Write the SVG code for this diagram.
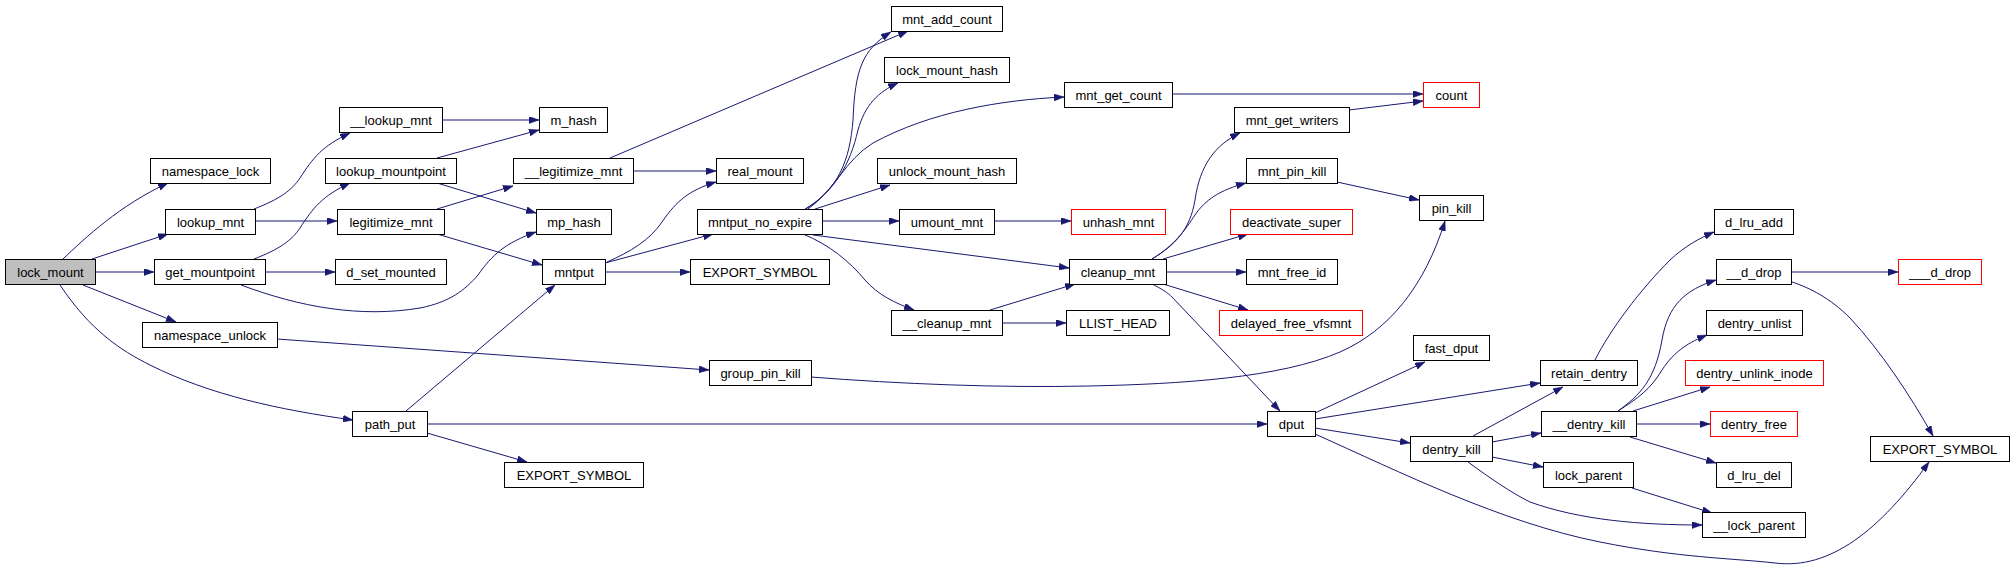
<svg xmlns="http://www.w3.org/2000/svg" width="2015" height="567" viewBox="0 0 2015 567">
<style>
.n rect{fill:#fff;stroke:#000;stroke-width:1}
.n.red rect{stroke:#ff0000}
.n.root rect{fill:#bfbfbf}
.n text{font-family:"Liberation Sans",Arial,sans-serif;font-size:13px;fill:#000;text-anchor:middle}
#edges path{fill:none;stroke:#191970;stroke-width:1;marker-end:url(#ah)}
</style>
<defs>
<marker id="ah" viewBox="0 0 10 7" refX="10" refY="3.5" markerWidth="10" markerHeight="7" markerUnits="userSpaceOnUse" orient="auto">
<path d="M0,0 L10,3.5 L0,7 z" fill="#191970" stroke="#191970" stroke-width="0.5"/>
</marker>
</defs>
<rect width="2015" height="567" fill="#fff"/>
<g id="edges">
<path d="M63,259 C85,238 120,205 168,183"/>
<path d="M92,259 L168,234"/>
<path d="M95,272 L154,272"/>
<path d="M83,285 L176,322"/>
<path d="M60,285 C90,330 120,350 150,365 C210,395 280,410 353,420"/>
<path d="M254,209 C280,199 292,190 300,178 C313,158 322,146 350,133"/>
<path d="M255,221 L337,221"/>
<path d="M254,259 C280,249 292,240 300,228 C313,208 322,196 350,183"/>
<path d="M265,272 L335,272"/>
<path d="M241,285 C300,307 360,318 420,308 C450,302 465,290 478,275 C492,255 505,243 536,232"/>
<path d="M277,339 L709,370"/>
<path d="M406,411 L555,285"/>
<path d="M427,424 L1267,424"/>
<path d="M427,433 L527,462"/>
<path d="M442,120 L539,120"/>
<path d="M437,158 L539,130"/>
<path d="M437,183 L536,213"/>
<path d="M437,209 L513,186"/>
<path d="M437,234 L542,265"/>
<path d="M633,171 L716,171"/>
<path d="M610,158 L908,31"/>
<path d="M607,262 C630,252 650,240 662,222 C677,200 690,190 716,182"/>
<path d="M605,263 L713,234"/>
<path d="M605,272 L690,272"/>
<path d="M805,209 C838,190 850,160 853,120 C855,70 862,50 891,32"/>
<path d="M806,209 C835,190 850,165 858,130 C865,105 878,92 898,83"/>
<path d="M808,209 C835,190 845,160 873,143 C930,112 1000,100 1064,97"/>
<path d="M815,209 L890,185"/>
<path d="M822,221 L899,221"/>
<path d="M813,235 L1069,268"/>
<path d="M803,234 C830,245 850,262 865,280 C878,295 895,303 914,310"/>
<path d="M994,221 L1071,221"/>
<path d="M990,310 L1075,284"/>
<path d="M1002,323 L1066,323"/>
<path d="M1172,94 L1423,94"/>
<path d="M1152,259 C1175,245 1190,230 1195,200 C1200,165 1215,145 1240,133"/>
<path d="M1152,259 C1175,245 1185,230 1195,215 C1205,200 1220,190 1246,183"/>
<path d="M1163,259 L1248,234"/>
<path d="M1166,272 L1246,272"/>
<path d="M1163,284 L1248,310"/>
<path d="M1152,284 C1162,289 1168,293 1172,297 L1280,411"/>
<path d="M1349,110 L1423,101"/>
<path d="M1337,182 L1419,200"/>
<path d="M811,377 C900,384 1000,388 1090,386 C1180,384 1280,378 1340,352 C1390,330 1425,285 1445,221"/>
<path d="M1315,413 L1425,362"/>
<path d="M1315,419 L1540,383"/>
<path d="M1315,428 L1410,443"/>
<path d="M1315,434 C1400,472 1500,522 1600,542 C1680,558 1730,558 1775,563 C1830,570 1880,530 1929,462"/>
<path d="M1473,436 L1563,387"/>
<path d="M1492,442 L1541,433"/>
<path d="M1492,457 L1543,467"/>
<path d="M1468,462 C1490,478 1510,492 1530,502 C1580,520 1640,525 1702,525"/>
<path d="M1632,488 L1712,513"/>
<path d="M1595,360 C1610,330 1640,290 1670,260 C1685,246 1700,238 1714,232"/>
<path d="M1618,411 C1640,395 1655,380 1662,340 C1668,305 1685,290 1716,280"/>
<path d="M1618,411 C1638,398 1650,390 1662,370 C1675,350 1690,342 1707,335"/>
<path d="M1633,411 L1710,387"/>
<path d="M1636,424 L1710,424"/>
<path d="M1630,437 L1716,463"/>
<path d="M1792,272 L1898,272"/>
<path d="M1792,282 C1810,288 1830,298 1850,318 C1880,350 1910,395 1933,436"/>
</g>
<g id="lock_mount" class="n root"><rect x="5.5" y="259.5" width="90" height="25"/><text x="50.5" y="276.5">lock_mount</text></g>
<g id="namespace_lock" class="n"><rect x="150.5" y="158.5" width="120" height="25"/><text x="210.5" y="175.5">namespace_lock</text></g>
<g id="lookup_mnt" class="n"><rect x="165.5" y="209.5" width="90" height="25"/><text x="210.5" y="226.5">lookup_mnt</text></g>
<g id="get_mountpoint" class="n"><rect x="154.5" y="259.5" width="111" height="25"/><text x="210" y="276.5">get_mountpoint</text></g>
<g id="namespace_unlock" class="n"><rect x="142.5" y="322.5" width="135" height="25"/><text x="210" y="339.5">namespace_unlock</text></g>
<g id="path_put" class="n"><rect x="352.5" y="411.5" width="75" height="25"/><text x="390" y="428.5">path_put</text></g>
<g id="__lookup_mnt" class="n"><rect x="339.5" y="107.5" width="103" height="25"/><text x="391" y="124.5">__lookup_mnt</text></g>
<g id="lookup_mountpoint" class="n"><rect x="325.5" y="158.5" width="131" height="25"/><text x="391" y="175.5">lookup_mountpoint</text></g>
<g id="legitimize_mnt" class="n"><rect x="337.5" y="209.5" width="107" height="25"/><text x="391" y="226.5">legitimize_mnt</text></g>
<g id="d_set_mounted" class="n"><rect x="335.5" y="259.5" width="111" height="25"/><text x="391" y="276.5">d_set_mounted</text></g>
<g id="m_hash" class="n"><rect x="539.5" y="107.5" width="68" height="25"/><text x="573.5" y="124.5">m_hash</text></g>
<g id="__legitimize_mnt" class="n"><rect x="513.5" y="158.5" width="120" height="25"/><text x="573.5" y="175.5">__legitimize_mnt</text></g>
<g id="mp_hash" class="n"><rect x="536.5" y="209.5" width="75" height="25"/><text x="574" y="226.5">mp_hash</text></g>
<g id="mntput" class="n"><rect x="542.5" y="259.5" width="63" height="25"/><text x="574" y="276.5">mntput</text></g>
<g id="EXPORT_SYMBOL_a" class="n"><rect x="504.5" y="462.5" width="139" height="25"/><text x="574" y="479.5">EXPORT_SYMBOL</text></g>
<g id="group_pin_kill" class="n"><rect x="709.5" y="360.5" width="102" height="25"/><text x="760.5" y="377.5">group_pin_kill</text></g>
<g id="real_mount" class="n"><rect x="716.5" y="158.5" width="87" height="25"/><text x="760" y="175.5">real_mount</text></g>
<g id="mntput_no_expire" class="n"><rect x="697.5" y="209.5" width="125" height="25"/><text x="760" y="226.5">mntput_no_expire</text></g>
<g id="EXPORT_SYMBOL_b" class="n"><rect x="690.5" y="259.5" width="139" height="25"/><text x="760" y="276.5">EXPORT_SYMBOL</text></g>
<g id="mnt_add_count" class="n"><rect x="891.5" y="6.5" width="111" height="25"/><text x="947" y="23.5">mnt_add_count</text></g>
<g id="lock_mount_hash" class="n"><rect x="884.5" y="57.5" width="125" height="25"/><text x="947" y="74.5">lock_mount_hash</text></g>
<g id="unlock_mount_hash" class="n"><rect x="877.5" y="158.5" width="139" height="25"/><text x="947" y="175.5">unlock_mount_hash</text></g>
<g id="umount_mnt" class="n"><rect x="899.5" y="209.5" width="95" height="25"/><text x="947" y="226.5">umount_mnt</text></g>
<g id="__cleanup_mnt" class="n"><rect x="891.5" y="310.5" width="111" height="25"/><text x="947" y="327.5">__cleanup_mnt</text></g>
<g id="mnt_get_count" class="n"><rect x="1064.5" y="82.5" width="108" height="25"/><text x="1118.5" y="99.5">mnt_get_count</text></g>
<g id="unhash_mnt" class="n red"><rect x="1071.5" y="209.5" width="94" height="25"/><text x="1118.5" y="226.5">unhash_mnt</text></g>
<g id="cleanup_mnt" class="n"><rect x="1069.5" y="259.5" width="97" height="25"/><text x="1118" y="276.5">cleanup_mnt</text></g>
<g id="LLIST_HEAD" class="n"><rect x="1066.5" y="310.5" width="103" height="25"/><text x="1118" y="327.5">LLIST_HEAD</text></g>
<g id="mnt_get_writers" class="n"><rect x="1234.5" y="107.5" width="115" height="25"/><text x="1292" y="124.5">mnt_get_writers</text></g>
<g id="mnt_pin_kill" class="n"><rect x="1246.5" y="158.5" width="91" height="25"/><text x="1292" y="175.5">mnt_pin_kill</text></g>
<g id="deactivate_super" class="n red"><rect x="1230.5" y="209.5" width="122" height="25"/><text x="1291.5" y="226.5">deactivate_super</text></g>
<g id="mnt_free_id" class="n"><rect x="1246.5" y="259.5" width="91" height="25"/><text x="1292" y="276.5">mnt_free_id</text></g>
<g id="delayed_free_vfsmnt" class="n red"><rect x="1219.5" y="310.5" width="143" height="25"/><text x="1291" y="327.5">delayed_free_vfsmnt</text></g>
<g id="dput" class="n"><rect x="1267.5" y="411.5" width="48" height="25"/><text x="1291.5" y="428.5">dput</text></g>
<g id="count" class="n red"><rect x="1423.5" y="82.5" width="56" height="25"/><text x="1451.5" y="99.5">count</text></g>
<g id="pin_kill" class="n"><rect x="1419.5" y="195.5" width="64" height="25"/><text x="1451.5" y="212.5">pin_kill</text></g>
<g id="fast_dput" class="n"><rect x="1413.5" y="335.5" width="76" height="25"/><text x="1451.5" y="352.5">fast_dput</text></g>
<g id="dentry_kill" class="n"><rect x="1410.5" y="436.5" width="82" height="25"/><text x="1451.5" y="453.5">dentry_kill</text></g>
<g id="retain_dentry" class="n"><rect x="1540.5" y="360.5" width="97" height="25"/><text x="1589" y="377.5">retain_dentry</text></g>
<g id="__dentry_kill" class="n"><rect x="1541.5" y="411.5" width="95" height="25"/><text x="1589" y="428.5">__dentry_kill</text></g>
<g id="lock_parent" class="n"><rect x="1543.5" y="462.5" width="90" height="25"/><text x="1588.5" y="479.5">lock_parent</text></g>
<g id="d_lru_add" class="n"><rect x="1714.5" y="209.5" width="79" height="25"/><text x="1754" y="226.5">d_lru_add</text></g>
<g id="__d_drop" class="n"><rect x="1716.5" y="259.5" width="75" height="25"/><text x="1754" y="276.5">__d_drop</text></g>
<g id="dentry_unlist" class="n"><rect x="1706.5" y="310.5" width="96" height="25"/><text x="1754.5" y="327.5">dentry_unlist</text></g>
<g id="dentry_unlink_inode" class="n red"><rect x="1685.5" y="360.5" width="138" height="25"/><text x="1754.5" y="377.5">dentry_unlink_inode</text></g>
<g id="dentry_free" class="n red"><rect x="1710.5" y="411.5" width="87" height="25"/><text x="1754" y="428.5">dentry_free</text></g>
<g id="d_lru_del" class="n"><rect x="1716.5" y="462.5" width="75" height="25"/><text x="1754" y="479.5">d_lru_del</text></g>
<g id="__lock_parent" class="n"><rect x="1702.5" y="512.5" width="103" height="25"/><text x="1754" y="529.5">__lock_parent</text></g>
<g id="___d_drop" class="n red"><rect x="1898.5" y="259.5" width="83" height="25"/><text x="1940" y="276.5">___d_drop</text></g>
<g id="EXPORT_SYMBOL_c" class="n"><rect x="1870.5" y="436.5" width="139" height="25"/><text x="1940" y="453.5">EXPORT_SYMBOL</text></g>
</svg>
